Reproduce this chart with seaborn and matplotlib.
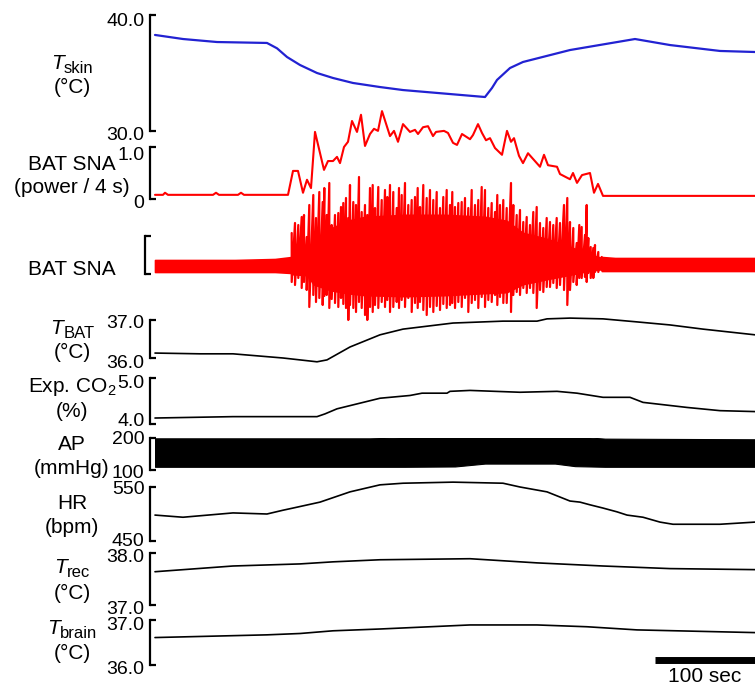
import numpy as np
import pandas as pd
import matplotlib
matplotlib.use("Agg")
import matplotlib.pyplot as plt
import matplotlib.transforms as mtrans
import seaborn as sns

# ---------------- data (time in s, 600 s window) ----------------
tskin_t = [0, 28, 62, 112, 122, 132, 145, 162, 178, 198, 225, 248, 330, 337, 342, 355, 368, 415, 480, 515, 565, 600]
tskin_v = [38.28, 37.93, 37.67, 37.59, 37.13, 36.38, 35.69, 35.0, 34.57, 34.14, 33.79, 33.53, 32.93, 33.71,
           34.40, 35.43, 35.95, 36.98, 37.93, 37.41, 36.90, 36.81]

pow_t = [0, 8, 10, 13, 58, 61, 64, 83, 86, 89, 133, 138, 143, 148, 152, 156, 160, 169, 173, 178,
         182, 185, 189, 193, 197, 202, 206, 210, 215, 219, 223, 227, 235, 239, 243, 248, 255, 260, 263, 268,
         273, 278, 281, 289, 293, 298, 302, 307, 315, 318, 323, 327, 331, 335, 340, 347, 352, 356, 359, 364,
         368, 373, 385, 389, 393, 402, 405, 415, 418, 422, 427, 435, 439, 443, 448, 600]
pow_v = [0.08, 0.08, 0.12, 0.08, 0.08, 0.12, 0.08, 0.08, 0.12, 0.08, 0.08, 0.54, 0.54, 0.12, 0.37, 0.21, 1.29, 0.56, 0.73, 0.73,
         0.81, 0.69, 1.00, 1.10, 1.50, 1.29, 1.62, 1.02, 1.25, 1.35, 1.31, 1.69, 1.21, 1.31, 1.10, 1.44, 1.29, 1.33, 1.25, 1.38,
         1.40, 1.21, 1.29, 1.31, 1.27, 1.08, 1.04, 1.25, 1.15, 1.23, 1.44, 1.27, 1.13, 1.17, 0.98, 0.85, 1.31, 1.10, 1.17, 0.83,
         0.69, 0.88, 0.62, 0.85, 0.65, 0.62, 0.48, 0.38, 0.50, 0.31, 0.46, 0.50, 0.12, 0.29, 0.06, 0.06]

# raw BAT SNA (arbitrary units): burst peak / trough envelope
raw_t = [136.7, 140, 143.3, 146.7, 149, 151.7, 154.3, 158.3, 161, 164.3,
         167.7, 169.3, 171.7, 174.3, 176.7, 180, 183.3, 186, 188.3, 191,
         193.3, 195, 198.3, 201, 204, 206.7, 210, 212.3, 215, 217.7,
         220, 223.3, 226.7, 230, 232.3, 235, 238.3, 241.7, 244, 246.7,
         250, 253.3, 256.7, 260, 262.7, 265, 268.3, 271.7, 275, 278.3,
         281.7, 285, 288.3, 291.7,
         295, 297.3, 300, 303.3, 306.7, 310, 313.3, 316.7, 320, 323.3,
         326.7, 330, 333.3, 336.7, 340, 342.3, 345, 348.3, 351.7, 356,
         358.3, 361.7, 365, 368.3, 371.7, 375, 378.3, 381.7, 385, 388.3,
         391.7, 395, 398.3, 401.7, 405, 409, 412.3, 415, 418.3, 421.7,
         424.3, 426.7, 430, 431.7, 433.3, 435.7, 438.3, 440, 443.3, 446.7]
raw_hi = [33, 43, 41, 49, 51, 29, 61, 71, 48, 74,
          64, 78, 51, 83, 41, 51, 53, 59, 63, 68,
          48, 81, 64, 61, 89, 54, 61, 51, 78, 81,
          58, 79, 66, 76, 69, 81, 74, 58, 78, 71,
          83, 61, 66, 69, 78, 59, 81, 68, 76, 66,
          74, 58, 69, 76,
          61, 74, 59, 63, 64, 68, 58, 76, 61, 66,
          79, 76, 58, 63, 54, 71, 61, 66, 58, 83,
          61, 51, 56, 44, 49, 41, 54, 59, 43, 38,
          48, 44, 41, 48, 43, 61, 68, 44, 38, 23,
          41, 39, 31, 61, 28, 19, 18, 21, 14, 9]
raw_lo = [-16, -19, -12, -22, -16, -24, -41, -29, -36, -32,
          -39, -30, -29, -42, -33, -37, -41, -32, -38, -42,
          -54, -39, -42, -46, -36, -42, -49, -54, -41, -46,
          -39, -42, -36, -41, -34, -46, -41, -36, -42, -34,
          -41, -32, -46, -37, -42, -36, -44, -49, -41, -46,
          -40, -44, -38, -42,
          -39, -37, -42, -36, -41, -32, -46, -37, -34, -42,
          -31, -41, -34, -36, -29, -39, -31, -37, -37, -46,
          -29, -26, -29, -22, -27, -22, -27, -42, -24, -26,
          -21, -21, -17, -22, -19, -24, -39, -24, -16, -19,
          -12, -12, -11, -16, -7, -12, -12, -6, -6, -4]
# solid core of the burst
core_t = [136.7, 152, 158, 175, 192, 210, 250, 290, 330, 352, 368, 392, 418, 432, 446.7]
core_hi = [12, 16, 24, 38, 46, 50, 52, 52, 50, 46, 34, 28, 19, 13, 9]
core_lo = [-9, -10, -19, -25, -28, -30, -31, -30, -28, -27, -19, -14, -9, -6, -4]
# raw BAT SNA baseline noise band (before / after burst)
base1_t = [0, 40, 80, 120, 136.7]
base1_hi = [6, 6, 6, 7, 9]
base1_lo = [-6, -6, -6, -6, -7]
base2_t = [446.7, 460, 500, 550, 600]
base2_hi = [9, 8, 8, 8, 8]
base2_lo = [-5, -5, -5, -5, -5]

tbat_t = [0, 45, 78, 128, 162, 172, 195, 225, 248, 298, 348, 382, 392, 415, 448, 482, 515, 548, 600]
tbat_v = [36.13, 36.11, 36.11, 36.0, 35.90, 35.95, 36.29, 36.61, 36.76, 36.92, 36.97, 36.97, 37.03, 37.05,
          37.03, 36.95, 36.87, 36.76, 36.61]

co2_t = [0, 78, 162, 170, 182, 225, 255, 267, 292, 295, 315, 365, 402, 422, 448, 475, 488, 532, 565, 600]
co2_v = [4.13, 4.16, 4.16, 4.22, 4.33, 4.56, 4.62, 4.67, 4.67, 4.71, 4.73, 4.69, 4.71, 4.67, 4.58, 4.58,
         4.47, 4.36, 4.29, 4.27]

ap_t = [0, 100, 215, 250, 300, 330, 400, 420, 450, 600]
ap_top = [199, 199, 199, 202, 204, 209, 208, 205, 198, 196]
ap_bot = [110, 110, 110, 110, 111, 120, 120, 112, 110, 110]

hr_t = [0, 28, 78, 112, 128, 138, 165, 195, 225, 248, 298, 348, 365, 392, 415, 425, 435, 448, 462, 472,
        488, 505, 518, 532, 565, 600]
hr_v = [498, 494, 502, 500, 507, 511, 522, 541, 554, 557, 559, 557, 550, 541, 524, 522, 517, 511, 504, 498,
        494, 485, 481, 481, 481, 485]

trec_t = [0, 78, 145, 178, 225, 315, 382, 448, 515, 600]
trec_v = [37.64, 37.75, 37.79, 37.83, 37.87, 37.89, 37.81, 37.75, 37.70, 37.68]

tbrain_t = [0, 112, 145, 178, 225, 315, 382, 432, 482, 600]
tbrain_v = [36.61, 36.67, 36.70, 36.76, 36.80, 36.89, 36.89, 36.85, 36.78, 36.72]

scale_bar_sec = 100

# ---------------- style ----------------
sns.set_style("white")
plt.rcParams['font.family'] = ['Liberation Sans', 'DejaVu Sans']
plt.rcParams['mathtext.fontset'] = 'custom'
plt.rcParams['mathtext.rm'] = 'Liberation Sans'
plt.rcParams['mathtext.it'] = 'Liberation Sans:italic'
plt.rcParams['mathtext.bf'] = 'Liberation Sans:bold'
plt.rcParams['text.color'] = 'black'
plt.rcParams['ytick.color'] = 'black'
plt.rcParams['axes.edgecolor'] = 'black'

W, H = 755, 688
FS = 15      # left labels
TFS = 14     # tick labels
SUBFS = 12
fig = plt.figure(figsize=(W / 100, H / 100), dpi=100)
renderer = fig.canvas.get_renderer()


def add_panel(top_px, bot_px, ylim, ticklabels=None, offset_px=5, label_shift=(0, 0)):
    ax = fig.add_axes([155 / W, 1 - bot_px / H, 600 / W, (bot_px - top_px) / H])
    ax.set_xlim(0, 600)
    ax.set_ylim(*ylim)
    for s in ['top', 'right', 'bottom']:
        ax.spines[s].set_visible(False)
    ax.spines['left'].set_position(('outward', offset_px * 0.72))
    ax.spines['left'].set_linewidth(1.6)
    ax.spines['left'].set_color('black')
    ax.set_xticks([])
    ax.set_yticks(list(ylim))
    if ticklabels is None:
        ax.set_yticklabels([])
    else:
        ax.set_yticklabels(ticklabels)
    ax.tick_params(axis='y', left=True, direction='in', length=4, width=1.6, pad=4,
                   labelsize=TFS, colors='black')
    ax.patch.set_visible(False)
    ax.grid(False)
    for lab, dy in zip(ax.get_yticklabels(), label_shift):
        if dy:
            lab.set_transform(lab.get_transform() +
                              mtrans.ScaledTranslation(0, -dy / 100, fig.dpi_scale_trans))
    return ax


def line(ax, t, v, color, lw):
    sns.lineplot(x=t, y=v, ax=ax, color=color, linewidth=lw, sort=False, estimator=None)
    ax.lines[-1].set_clip_on(False)
    ax.set_xlabel('')
    ax.set_ylabel('')


def ylabel(lines, baselines, cx=72):
    for txt, by in zip(lines, baselines):
        fig.text(cx / W, 1 - by / H, txt, ha='center', va='baseline', fontsize=FS)


def t_label(sub, base_y, unit_base, cx=72):
    t1 = fig.text(0, 0, 'T', fontsize=FS, style='italic', ha='left', va='baseline')
    t2 = fig.text(0, 0, sub, fontsize=SUBFS, ha='left', va='baseline')
    w1 = t1.get_window_extent(renderer).width
    w2 = t2.get_window_extent(renderer).width
    x0 = cx - (w1 + w2) / 2
    t1.set_position((x0 / W, 1 - base_y / H))
    t2.set_position(((x0 + w1 + 0.5) / W, 1 - (base_y + 4) / H))
    fig.text(cx / W, 1 - unit_base / H, '(°C)', fontsize=FS, ha='center', va='baseline')


BLUE = '#2222d2'
RED = '#ff0000'

# Tskin
ax = add_panel(15, 131, (30, 40), ['30.0', '40.0'], label_shift=(2, 5))
line(ax, tskin_t, tskin_v, BLUE, 1.6)
t_label('skin', 69, 93)

# BAT SNA power
ax = add_panel(147, 199, (0, 1), ['0', '1.0'], label_shift=(2, 7))
line(ax, pow_t, pow_v, RED, 1.5)
ylabel(['BAT SNA', '(power / 4 s)'], [170, 193])

# raw BAT SNA
ax = add_panel(236, 274, (-8, 30), None, offset_px=10)
ax.fill_between(base1_t, base1_lo, base1_hi, color=RED, lw=1.2, edgecolor=RED, clip_on=False)
ax.fill_between(base2_t, base2_lo, base2_hi, color=RED, lw=1.2, edgecolor=RED, clip_on=False)
ax.fill_between(core_t, core_lo, core_hi, color=RED, lw=0, clip_on=False)
zz = pd.DataFrame({'t': np.repeat(raw_t, 2),
                   'v': np.column_stack([raw_hi, raw_lo]).ravel()})
line(ax, zz['t'], zz['v'], RED, 1.6)
ylabel(['BAT SNA'], [275])

# TBAT
ax = add_panel(320, 358, (36, 37), ['36.0', '37.0'], label_shift=(3, 1))
line(ax, tbat_t, tbat_v, 'black', 1.2)
t_label('BAT', 334, 358)

# Exp CO2
ax = add_panel(378, 424, (4, 5), ['4.0', '5.0'], label_shift=(-4, 4))
line(ax, co2_t, co2_v, 'black', 1.2)
ylabel(['Exp. CO$_2$', '(%)'], [392, 417])

# AP
ax = add_panel(438, 470, (100, 200), ['100', '200'], label_shift=(2, 0))
ax.fill_between(ap_t, ap_bot, ap_top, color='black', lw=0.8, edgecolor='black')
ylabel(['AP', '(mmHg)'], [450, 474])

# HR
ax = add_panel(487, 541, (450, 550), ['450', '550'], label_shift=(-2, 1))
line(ax, hr_t, hr_v, 'black', 1.2)
ylabel(['HR', '(bpm)'], [509, 533])

# Trec
ax = add_panel(553, 605, (37, 38), ['37.0', '38.0'], label_shift=(2, 2))
line(ax, trec_t, trec_v, 'black', 1.2)
t_label('rec', 573, 599)

# Tbrain
ax = add_panel(620, 665, (36, 37), ['36.0', '37.0'], label_shift=(3, 4))
line(ax, tbrain_t, tbrain_v, 'black', 1.2)
t_label('brain', 634, 659)

# scale bar
ax.plot([600 - scale_bar_sec, 600], [36.1, 36.1], color='black', lw=5, solid_capstyle='butt', clip_on=False)
ax.text(600 - scale_bar_sec / 2, 35.74, f'{scale_bar_sec} sec', ha='center', va='center', fontsize=FS)

fig.savefig('out.png', dpi=100)
